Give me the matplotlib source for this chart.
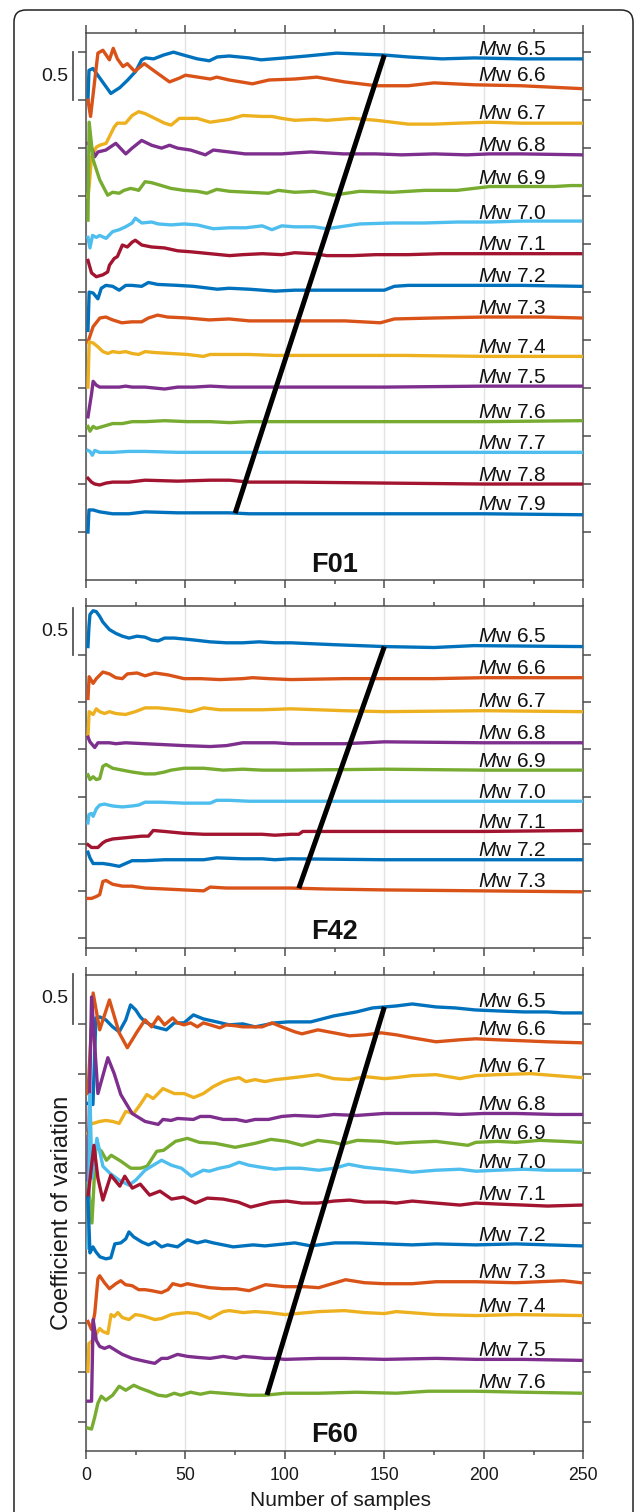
import numpy as np
import matplotlib
matplotlib.use("Agg")
import matplotlib.pyplot as plt
from matplotlib.patches import FancyBboxPatch
from matplotlib.transforms import IdentityTransform, blended_transform_factory

plt.rcParams['font.family'] = ['Liberation Sans', 'DejaVu Sans']
plt.rcParams['mathtext.fontset'] = 'custom'
plt.rcParams['mathtext.rm'] = 'Liberation Sans'
plt.rcParams['mathtext.it'] = 'Liberation Sans:italic'

# ---- F01 ----
f01_65_x = [1, 1.5, 3.5, 8, 12.5, 17, 21, 25, 28, 30, 34, 39, 44, 49, 56, 62, 66, 72, 82, 88, 100, 111, 126, 138, 150, 162, 179, 195, 219, 249]
f01_65_y = [5.00, 5.31, 5.33, 5.20, 5.07, 5.13, 5.21, 5.30, 5.42, 5.44, 5.43, 5.47, 5.50, 5.47, 5.43, 5.41, 5.45, 5.46, 5.44, 5.42, 5.44, 5.46, 5.49, 5.48, 5.47, 5.45, 5.43, 5.44, 5.43, 5.43]
f01_66_x = [1, 2.3, 6, 8.5, 11.8, 13.7, 15.8, 18.6, 20.8, 24.5, 29.3, 34.6, 42, 47, 50, 62.5, 65.7, 72, 83.7, 92, 105, 116, 130, 146, 162, 175, 195, 219, 249]
f01_66_y = [5.00, 4.83, 5.49, 5.52, 5.42, 5.54, 5.43, 5.35, 5.38, 5.30, 5.38, 5.30, 5.19, 5.23, 5.26, 5.22, 5.24, 5.21, 5.17, 5.21, 5.22, 5.24, 5.19, 5.15, 5.15, 5.18, 5.16, 5.15, 5.12]
f01_67_x = [1, 1.6, 2.8, 5.2, 6.9, 10.1, 14.2, 15.8, 19.9, 23.2, 26.5, 29.7, 34.6, 39.5, 42.8, 46.9, 55.9, 62.4, 72.2, 78.8, 88.6, 93.5, 98.4, 105, 114.7, 121, 134, 146, 162, 175, 187, 203, 219, 249]
f01_67_y = [3.99, 4.10, 4.41, 4.51, 4.53, 4.55, 4.72, 4.76, 4.76, 4.84, 4.88, 4.86, 4.81, 4.76, 4.74, 4.81, 4.81, 4.77, 4.80, 4.84, 4.83, 4.83, 4.81, 4.79, 4.80, 4.79, 4.81, 4.79, 4.75, 4.75, 4.76, 4.77, 4.76, 4.76]
f01_68_x = [1, 2, 4.4, 6, 10, 15, 20, 23.2, 28, 33, 38, 42, 46, 52.6, 60, 64, 72, 80, 88.6, 98.4, 105, 113, 129.4, 145.7, 158.8, 175, 191.5, 203, 219, 249]
f01_68_y = [4.55, 4.55, 4.41, 4.46, 4.48, 4.55, 4.44, 4.50, 4.58, 4.53, 4.50, 4.53, 4.50, 4.48, 4.43, 4.48, 4.46, 4.44, 4.44, 4.44, 4.45, 4.46, 4.44, 4.44, 4.43, 4.44, 4.43, 4.44, 4.44, 4.43]
f01_69_x = [1, 1.6, 3.6, 6.9, 10.9, 13.4, 16.7, 19.1, 22.4, 24.8, 26.5, 29.7, 33, 36.3, 42.8, 49.3, 55.9, 60.8, 65.7, 72.2, 82, 91.8, 96.7, 104.9, 114.7, 124.5, 137.6, 154, 170.3, 186.6, 203, 219.3, 235.6, 243.8, 248.7]
f01_69_y = [3.75, 4.77, 4.38, 4.17, 4.01, 4.04, 4.03, 4.06, 4.08, 4.07, 4.06, 4.15, 4.14, 4.12, 4.08, 4.06, 4.05, 4.03, 4.07, 4.05, 4.04, 4.03, 4.06, 4.04, 4.05, 4.01, 4.05, 4.04, 4.06, 4.06, 4.10, 4.10, 4.10, 4.11, 4.11]
f01_70_x = [1, 2, 3.3, 5.2, 6.9, 10.1, 13.4, 16.7, 19.9, 23.2, 24.8, 28.1, 33, 36.3, 42.8, 49.3, 55.9, 64, 72.2, 80.4, 88.6, 93.5, 98.4, 104.9, 114.7, 121, 137.6, 154, 170.3, 186.6, 203, 219.3, 248.7]
f01_70_y = [3.57, 3.46, 3.59, 3.57, 3.59, 3.56, 3.63, 3.65, 3.68, 3.72, 3.77, 3.72, 3.73, 3.71, 3.70, 3.71, 3.70, 3.66, 3.67, 3.67, 3.69, 3.65, 3.69, 3.68, 3.68, 3.66, 3.71, 3.72, 3.72, 3.73, 3.73, 3.74, 3.74]
f01_71_x = [1, 2.8, 5.2, 8.5, 10.9, 11.8, 14.2, 15.8, 18.3, 20.8, 23.2, 24.8, 28.1, 33, 39.5, 46.1, 52.6, 62.4, 72.2, 78.8, 88.6, 98.4, 104.9, 114.7, 121, 134, 145.7, 162, 178.4, 203, 248.7]
f01_71_y = [3.33, 3.20, 3.16, 3.18, 3.21, 3.28, 3.35, 3.37, 3.49, 3.47, 3.52, 3.54, 3.49, 3.47, 3.46, 3.43, 3.42, 3.40, 3.38, 3.39, 3.40, 3.39, 3.41, 3.40, 3.38, 3.38, 3.39, 3.39, 3.40, 3.40, 3.40]
f01_72_x = [1, 1.6, 3.6, 6, 7.7, 10, 13.4, 16.7, 20, 23, 28, 31.4, 36, 46, 54, 66, 72, 82, 95, 105, 130, 150, 155, 162, 187, 219, 249]
f01_72_y = [2.60, 3.00, 2.99, 2.93, 3.04, 3.07, 3.06, 3.02, 3.07, 3.07, 3.06, 3.10, 3.08, 3.07, 3.06, 3.03, 3.04, 3.03, 3.01, 3.02, 3.02, 3.02, 3.06, 3.07, 3.07, 3.07, 3.06]
f01_73_x = [1, 3.6, 7, 10, 13.4, 18, 23, 28, 31.4, 36, 41, 51, 62, 72, 82, 95, 105, 130, 148, 155, 175, 200, 230, 249]
f01_73_y = [2.48, 2.64, 2.73, 2.74, 2.71, 2.68, 2.69, 2.69, 2.73, 2.76, 2.74, 2.73, 2.71, 2.72, 2.70, 2.70, 2.70, 2.70, 2.68, 2.72, 2.73, 2.74, 2.74, 2.73]
f01_74_x = [1, 1.6, 3.6, 6, 8.5, 11, 13.4, 16.7, 19.9, 23.2, 26.5, 29.7, 34.6, 42.8, 51, 59, 62.4, 72.2, 82, 95.1, 104.9, 130, 160, 200, 249]
f01_74_y = [2.01, 2.48, 2.47, 2.43, 2.38, 2.36, 2.38, 2.37, 2.38, 2.36, 2.35, 2.38, 2.37, 2.36, 2.35, 2.33, 2.35, 2.35, 2.35, 2.34, 2.34, 2.34, 2.34, 2.33, 2.33]
f01_75_x = [1, 2.8, 3.6, 5.2, 6.9, 10.1, 13.4, 16.7, 19.9, 23.2, 29.7, 39.5, 46.1, 54.2, 62.4, 72.2, 82, 95.1, 104.9, 150, 200, 249]
f01_75_y = [1.70, 1.94, 2.07, 2.03, 2.01, 2.01, 2.01, 2.01, 2.02, 2.01, 2.01, 1.99, 2.01, 2.01, 2.02, 2.01, 2.01, 2.01, 2.01, 2.01, 2.02, 2.02]
f01_76_x = [1, 2, 3.6, 5.2, 8.5, 13.4, 18.3, 23.2, 29.7, 39.5, 51, 62.4, 72.2, 82, 95, 105, 150, 200, 249]
f01_76_y = [1.60, 1.55, 1.60, 1.58, 1.60, 1.63, 1.63, 1.65, 1.65, 1.66, 1.65, 1.65, 1.64, 1.65, 1.65, 1.65, 1.65, 1.65, 1.66]
f01_77_x = [1, 2, 3.2, 4.4, 6.9, 13.4, 21.6, 29.7, 46.1, 62.4, 78.8, 105, 150, 200, 249]
f01_77_y = [1.35, 1.34, 1.30, 1.35, 1.33, 1.33, 1.34, 1.34, 1.33, 1.33, 1.33, 1.33, 1.33, 1.33, 1.33]
f01_78_x = [1, 2.8, 4.4, 6.9, 10.1, 13.4, 21.6, 29.7, 46.1, 62.4, 72.2, 82, 95, 105, 150, 200, 249]
f01_78_y = [1.06, 1.02, 1.00, 0.99, 1.01, 1.02, 1.02, 1.04, 1.03, 1.04, 1.04, 1.02, 1.02, 1.02, 1.01, 1.00, 1.00]
f01_79_x = [1, 1.5, 3.6, 6.9, 13.4, 21.6, 29.7, 46.1, 62.4, 72.2, 82, 95, 105, 150, 200, 249]
f01_79_y = [0.50, 0.73, 0.73, 0.71, 0.69, 0.69, 0.71, 0.70, 0.70, 0.70, 0.69, 0.69, 0.69, 0.69, 0.69, 0.68]

# ---- F42 ----
f42_65_x = [1, 1.5, 2, 3.6, 5.2, 6.9, 8.5, 11.8, 15, 18.3, 21.6, 25.7, 29.7, 33, 36.3, 39.5, 44.4, 49.3, 54.2, 62.4, 70.6, 78.8, 87, 95, 103, 124.6, 150, 175, 195, 249]
f42_65_y = [3.59, 3.80, 3.93, 3.97, 3.96, 3.91, 3.85, 3.77, 3.73, 3.70, 3.68, 3.70, 3.69, 3.66, 3.65, 3.68, 3.68, 3.67, 3.66, 3.64, 3.63, 3.63, 3.64, 3.63, 3.63, 3.61, 3.59, 3.58, 3.60, 3.59]
f42_66_x = [1, 1.6, 3.6, 5.2, 8.5, 11.8, 15, 18.3, 20.8, 25.7, 29.7, 34.6, 41.2, 49.3, 57.5, 67.3, 78.8, 83.7, 91.8, 103, 130, 150, 175, 200, 249]
f42_66_y = [3.04, 3.27, 3.20, 3.25, 3.32, 3.30, 3.26, 3.25, 3.30, 3.31, 3.28, 3.31, 3.29, 3.25, 3.25, 3.24, 3.25, 3.26, 3.25, 3.24, 3.25, 3.25, 3.25, 3.26, 3.26]
f42_67_x = [1, 1.6, 3.6, 5.2, 6.9, 9.3, 11.8, 15, 19.9, 24.8, 29.7, 36.3, 46.1, 52.6, 59.2, 67.3, 78.8, 88.6, 103, 130, 150, 200, 249]
f42_67_y = [2.64, 2.90, 2.87, 2.93, 2.90, 2.88, 2.90, 2.88, 2.87, 2.90, 2.94, 2.94, 2.92, 2.90, 2.94, 2.92, 2.92, 2.92, 2.93, 2.91, 2.90, 2.91, 2.90]
f42_68_x = [1, 2, 4.4, 6, 8.5, 11.8, 15, 19.9, 29.7, 39.5, 49.3, 62.4, 70.6, 78.8, 86.9, 95, 103, 130, 150, 200, 249]
f42_68_y = [2.63, 2.58, 2.52, 2.57, 2.57, 2.57, 2.56, 2.57, 2.56, 2.55, 2.54, 2.53, 2.54, 2.57, 2.57, 2.57, 2.56, 2.56, 2.58, 2.57, 2.57]
f42_69_x = [1, 2, 3.6, 5.2, 6.9, 8.5, 10.1, 13.4, 18.3, 23.2, 29.7, 34.6, 39.5, 42.8, 49.3, 59.2, 69, 78.8, 88.6, 103, 150, 200, 249]
f42_69_y = [2.23, 2.18, 2.21, 2.18, 2.19, 2.32, 2.34, 2.30, 2.28, 2.26, 2.24, 2.24, 2.26, 2.28, 2.30, 2.30, 2.28, 2.29, 2.28, 2.28, 2.29, 2.28, 2.28]
f42_70_x = [1, 1.5, 2.8, 3.6, 5.2, 6.9, 9.3, 13.4, 18.3, 23.2, 26.5, 29.7, 37.9, 49.3, 62.4, 65.7, 72.2, 82, 95, 103, 150, 200, 249]
f42_70_y = [1.72, 1.81, 1.82, 1.79, 1.87, 1.91, 1.92, 1.90, 1.89, 1.90, 1.91, 1.94, 1.94, 1.93, 1.93, 1.96, 1.96, 1.95, 1.95, 1.95, 1.95, 1.95, 1.95]
f42_71_x = [1, 2.8, 6, 8.5, 10.1, 13.4, 18.3, 23.2, 28.1, 31.4, 33.8, 39.5, 49.3, 59.2, 65.7, 78.8, 88.6, 95, 103, 107, 109, 150, 200, 249]
f42_71_y = [1.49, 1.46, 1.46, 1.51, 1.53, 1.55, 1.56, 1.57, 1.58, 1.58, 1.64, 1.63, 1.61, 1.60, 1.60, 1.60, 1.60, 1.59, 1.60, 1.60, 1.63, 1.63, 1.63, 1.64]
f42_72_x = [1, 2, 3.6, 6, 8.5, 11.8, 16.7, 19.9, 23.2, 29.7, 39.5, 49.3, 59.2, 65.7, 78.8, 88.6, 95, 103, 150, 200, 249]
f42_72_y = [1.41, 1.35, 1.29, 1.29, 1.29, 1.28, 1.26, 1.29, 1.32, 1.32, 1.33, 1.33, 1.33, 1.35, 1.34, 1.34, 1.33, 1.34, 1.33, 1.33, 1.33]
f42_73_x = [1, 2.8, 5.2, 6.9, 8.5, 10.1, 13.4, 18.3, 23.2, 29.7, 39.5, 49.3, 59.2, 62.4, 70.6, 78.8, 88.6, 103, 120, 150, 200, 249]
f42_73_y = [0.92, 0.92, 0.94, 0.96, 1.10, 1.11, 1.07, 1.05, 1.05, 1.03, 1.02, 1.01, 1.00, 1.04, 1.03, 1.03, 1.03, 1.03, 1.02, 1.01, 1.00, 0.99]

# ---- F60 ----
f60_65_x = [1, 3.5, 5, 6.9, 10, 13.4, 16.7, 20, 22.4, 25, 27.3, 29.7, 34.6, 40.4, 44.4, 49.3, 54, 59, 65.7, 72, 78.8, 85, 90, 95, 101.6, 113, 124.6, 136, 144, 150, 156, 164, 176, 185.7, 195.6, 207, 220, 232, 239.6, 249]
f60_65_y = [3.70, 3.69, 4.56, 4.57, 4.54, 4.47, 4.42, 4.54, 4.69, 4.64, 4.57, 4.52, 4.47, 4.44, 4.51, 4.51, 4.59, 4.55, 4.52, 4.49, 4.50, 4.47, 4.49, 4.51, 4.52, 4.52, 4.58, 4.62, 4.66, 4.67, 4.68, 4.70, 4.67, 4.66, 4.64, 4.63, 4.62, 4.62, 4.61, 4.61]
f60_66_x = [1, 3.6, 6.9, 11.8, 16.7, 20.8, 25.7, 29.7, 33, 36.3, 39.5, 43.6, 46, 49.3, 52.6, 56, 59, 62.4, 67.3, 70.6, 75.5, 78.8, 83.7, 88.6, 93.5, 98.4, 105, 108.6, 116.6, 124.6, 132.5, 140.4, 148.4, 156, 164, 176, 188, 196, 207, 220, 232, 249]
f60_66_y = [3.80, 4.81, 4.44, 4.74, 4.41, 4.26, 4.42, 4.54, 4.47, 4.57, 4.49, 4.56, 4.51, 4.49, 4.51, 4.47, 4.51, 4.49, 4.46, 4.49, 4.48, 4.47, 4.47, 4.47, 4.51, 4.47, 4.42, 4.40, 4.44, 4.41, 4.38, 4.39, 4.41, 4.39, 4.36, 4.32, 4.34, 4.35, 4.34, 4.33, 4.32, 4.31]
f60_67_x = [1, 2.5, 3.6, 6.9, 10, 13.4, 16.7, 20, 24, 27.3, 30.6, 33.8, 38.7, 44.4, 49.3, 54.2, 59, 64, 69, 72, 77, 80.4, 85, 90, 95, 100, 108.6, 116.6, 124.6, 132.5, 140.4, 150, 156, 164, 176, 188, 196, 207, 223.6, 236, 249]
f60_67_y = [3.40, 3.50, 3.50, 3.52, 3.53, 3.52, 3.50, 3.62, 3.60, 3.69, 3.79, 3.75, 3.85, 3.80, 3.80, 3.76, 3.80, 3.87, 3.92, 3.94, 3.96, 3.92, 3.94, 3.92, 3.94, 3.95, 3.97, 3.99, 3.95, 3.94, 3.97, 3.95, 3.96, 3.98, 3.99, 3.95, 3.98, 3.99, 4.00, 3.98, 3.96]
f60_68_x = [1, 2.8, 6, 11, 14.2, 17.5, 23.2, 29.7, 36.3, 38.7, 42.8, 46, 54, 57.5, 62.4, 69, 75.5, 80.4, 85, 91.8, 98.4, 105, 116.6, 124.6, 136, 150, 164, 176, 188, 200, 216, 236, 249]
f60_68_y = [2.90, 4.77, 3.80, 4.16, 4.00, 3.79, 3.60, 3.52, 3.49, 3.54, 3.53, 3.55, 3.54, 3.57, 3.57, 3.54, 3.54, 3.52, 3.54, 3.54, 3.57, 3.58, 3.57, 3.59, 3.58, 3.60, 3.60, 3.60, 3.59, 3.60, 3.60, 3.59, 3.59]
f60_69_x = [1, 3, 5, 7.8, 10.3, 12.7, 17.6, 22.5, 27.5, 30.7, 35.6, 39, 45, 51, 57, 65, 75, 85, 93, 101, 108.6, 116.6, 124.6, 128.5, 136.4, 148.4, 156, 164, 176, 184, 192, 196, 207, 216, 228, 239.6, 249]
f60_69_y = [2.90, 2.50, 3.27, 3.22, 3.13, 3.18, 3.12, 3.05, 3.05, 3.07, 3.22, 3.23, 3.32, 3.35, 3.31, 3.30, 3.26, 3.30, 3.34, 3.32, 3.28, 3.33, 3.31, 3.29, 3.33, 3.32, 3.30, 3.31, 3.32, 3.30, 3.28, 3.31, 3.32, 3.31, 3.33, 3.32, 3.31]
f60_70_x = [1, 2, 3, 5.5, 8.5, 12, 16.7, 21.6, 25, 29.7, 33, 38, 43, 48, 53, 59, 62, 67, 72, 77, 82, 88, 95, 101, 108, 117, 125, 132, 140, 150, 156, 164, 176, 188, 196, 207, 220, 232, 249]
f60_70_y = [2.25, 3.79, 2.95, 3.35, 3.07, 3.00, 2.93, 2.88, 2.93, 3.03, 3.07, 3.13, 3.08, 3.05, 2.97, 3.03, 3.02, 3.05, 3.07, 3.11, 3.08, 3.06, 3.04, 3.05, 3.05, 3.03, 3.05, 3.09, 3.06, 3.04, 3.03, 3.01, 3.03, 3.04, 3.02, 3.03, 3.04, 3.03, 3.03]
f60_71_x = [1, 4, 6, 8.5, 12.5, 17, 19.5, 23.3, 27.3, 32, 37.2, 43, 49, 55, 61, 69, 76.5, 82.8, 93, 101, 108.6, 116.6, 124.6, 132.5, 140, 150, 156, 164, 176, 188, 196, 207, 220, 232, 249]
f60_71_y = [2.76, 3.28, 2.95, 2.73, 2.98, 2.87, 2.97, 2.85, 2.89, 2.78, 2.82, 2.74, 2.76, 2.70, 2.75, 2.74, 2.71, 2.66, 2.71, 2.72, 2.70, 2.70, 2.72, 2.73, 2.71, 2.71, 2.70, 2.72, 2.70, 2.68, 2.70, 2.69, 2.68, 2.67, 2.68]
f60_72_x = [1, 2, 3.5, 5, 7, 10, 12.5, 14.5, 17.5, 20, 21.6, 24, 28, 31.4, 34.6, 38, 41, 46, 51, 56, 60, 64, 69, 74, 79, 84, 90, 95, 100, 105, 113, 125, 136, 150, 164, 176, 196, 216, 249]
f60_72_y = [2.75, 2.20, 2.26, 2.21, 2.16, 2.14, 2.15, 2.29, 2.30, 2.34, 2.41, 2.36, 2.31, 2.28, 2.31, 2.26, 2.28, 2.26, 2.33, 2.30, 2.32, 2.30, 2.28, 2.26, 2.27, 2.28, 2.27, 2.28, 2.29, 2.30, 2.27, 2.30, 2.30, 2.29, 2.28, 2.29, 2.28, 2.29, 2.27]
f60_73_x = [1, 2.8, 4.4, 6, 6.9, 9.3, 11.8, 15, 17.5, 19.9, 23.2, 26.5, 29.7, 33, 37.9, 41.2, 43.6, 47.7, 51, 55.9, 62.4, 69, 75.5, 82, 86.1, 90.2, 95.1, 100, 110, 117, 130.5, 140, 150, 164, 176, 196, 216, 240, 249]
f60_73_y = [1.51, 1.43, 1.59, 1.94, 1.97, 1.90, 1.84, 1.89, 1.92, 1.88, 1.87, 1.83, 1.83, 1.82, 1.80, 1.83, 1.89, 1.87, 1.89, 1.87, 1.85, 1.84, 1.84, 1.82, 1.85, 1.88, 1.87, 1.86, 1.86, 1.85, 1.93, 1.90, 1.89, 1.89, 1.91, 1.91, 1.90, 1.92, 1.90]
f60_74_x = [1, 1.5, 2.8, 4.4, 6.9, 8.5, 11, 12.6, 14.2, 16, 18.3, 21.6, 24.8, 28, 31.4, 34.6, 38, 40.4, 42.8, 46, 51, 56, 62.4, 66, 69, 72, 79, 85, 92, 100, 117, 130, 140, 150, 156, 176, 196, 216, 249]
f60_74_y = [1.01, 1.29, 1.31, 1.36, 1.44, 1.41, 1.39, 1.58, 1.56, 1.60, 1.55, 1.53, 1.58, 1.57, 1.55, 1.53, 1.54, 1.56, 1.58, 1.59, 1.60, 1.59, 1.54, 1.58, 1.61, 1.62, 1.60, 1.61, 1.60, 1.58, 1.61, 1.62, 1.60, 1.59, 1.61, 1.58, 1.57, 1.58, 1.57]
f60_75_x = [1, 2.8, 3.6, 5.2, 6.9, 9.3, 11.8, 15, 18.3, 23.2, 29.7, 34.6, 38, 41, 46, 51, 56, 62.4, 69, 75.5, 79, 85, 90, 95, 100, 117, 130, 150, 176, 196, 220, 249]
f60_75_y = [0.71, 0.71, 1.53, 1.32, 1.26, 1.24, 1.26, 1.22, 1.18, 1.14, 1.11, 1.09, 1.14, 1.14, 1.18, 1.16, 1.15, 1.14, 1.16, 1.14, 1.16, 1.15, 1.14, 1.14, 1.13, 1.14, 1.14, 1.13, 1.14, 1.13, 1.13, 1.12]
f60_76_x = [1, 2.8, 4.4, 6, 7.7, 10, 13.4, 16.7, 20, 24, 27.3, 31.4, 36.3, 40.4, 44.4, 47.7, 52.6, 57.5, 62.4, 69, 75.5, 82, 90, 100, 117, 136, 156, 172, 196, 220, 249]
f60_76_y = [0.44, 0.43, 0.55, 0.69, 0.76, 0.72, 0.77, 0.86, 0.82, 0.87, 0.84, 0.81, 0.77, 0.76, 0.79, 0.77, 0.80, 0.78, 0.80, 0.79, 0.78, 0.77, 0.77, 0.79, 0.79, 0.80, 0.79, 0.81, 0.81, 0.80, 0.79]

f01_mags = [6.5, 6.6, 6.7, 6.8, 6.9, 7.0, 7.1, 7.2, 7.3, 7.4, 7.5, 7.6, 7.7, 7.8, 7.9]
f42_mags = [6.5, 6.6, 6.7, 6.8, 6.9, 7.0, 7.1, 7.2, 7.3]
f60_mags = [6.5, 6.6, 6.7, 6.8, 6.9, 7.0, 7.1, 7.2, 7.3, 7.4, 7.5, 7.6]

panel_names = ["F01", "F42", "F60"]
trend_top_x = [150, 150, 150]
trend_bottom_x = [75, 107, 91]
x_ticks = [0, 50, 100, 150, 200, 250]

f01_curves = [(f01_65_x, f01_65_y), (f01_66_x, f01_66_y), (f01_67_x, f01_67_y), (f01_68_x, f01_68_y),
              (f01_69_x, f01_69_y), (f01_70_x, f01_70_y), (f01_71_x, f01_71_y), (f01_72_x, f01_72_y),
              (f01_73_x, f01_73_y), (f01_74_x, f01_74_y), (f01_75_x, f01_75_y), (f01_76_x, f01_76_y),
              (f01_77_x, f01_77_y), (f01_78_x, f01_78_y), (f01_79_x, f01_79_y)]
f42_curves = [(f42_65_x, f42_65_y), (f42_66_x, f42_66_y), (f42_67_x, f42_67_y), (f42_68_x, f42_68_y),
              (f42_69_x, f42_69_y), (f42_70_x, f42_70_y), (f42_71_x, f42_71_y), (f42_72_x, f42_72_y),
              (f42_73_x, f42_73_y)]
f60_curves = [(f60_65_x, f60_65_y), (f60_66_x, f60_66_y), (f60_67_x, f60_67_y), (f60_68_x, f60_68_y),
              (f60_69_x, f60_69_y), (f60_70_x, f60_70_y), (f60_71_x, f60_71_y), (f60_72_x, f60_72_y),
              (f60_73_x, f60_73_y), (f60_74_x, f60_74_y), (f60_75_x, f60_75_y), (f60_76_x, f60_76_y)]

# matlab default colour order
colors = ["#0072BD", "#D95319", "#EDB120", "#7E2F8E", "#77AC30", "#4DBEEE", "#A2142F"]
axis_gray = "#4d4d4d"
LABEL_X = 197

fig = plt.figure(figsize=(6.34, 15.12), dpi=100)

# rounded frame around the figure (pixel coords)
frame = FancyBboxPatch((14, -40), 619, 1542, boxstyle="round,pad=0,rounding_size=12",
                       transform=IdentityTransform(), fill=False, ec="#222222", lw=1.1)
fig.add_artist(frame)

# [left, bottom, width, height], ylim, yticks, scale bar, name baseline
panels = [
    dict(rect=[0.1356, 0.6164, 0.7844, 0.3618], ylim=(0, 5.70), yticks=np.arange(0.5, 5.51, 0.5),
         bar=(5.0, 5.5), curves=f01_curves, mags=f01_mags, name_y=0.015),
    dict(rect=[0.1356, 0.3730, 0.7844, 0.2262], ylim=(0.394, 4.02), yticks=np.arange(0.5, 3.51, 0.5),
         bar=(3.5, 4.0), curves=f42_curves, mags=f42_mags, name_y=0.025),
    dict(rect=[0.1356, 0.0403, 0.7844, 0.3148], ylim=(0.209, 4.99), yticks=np.arange(0.5, 4.51, 0.5),
         bar=(4.5, 5.0), curves=f60_curves, mags=f60_mags, name_y=0.0195),
]

for i, p in enumerate(panels):
    ax = fig.add_axes(p["rect"])
    ax.set_xlim(0, 250)
    ax.set_ylim(*p["ylim"])
    ax.set_xticks(x_ticks)
    ax.set_xticks(np.arange(25, 250, 50), minor=True)
    ax.set_yticks(p["yticks"])
    ax.set_yticklabels([])
    ax.grid(axis="x", which="major", color="#e3e3e3", lw=1.0)
    ax.set_axisbelow(True)
    for s in ax.spines.values():
        s.set_color(axis_gray)
        s.set_linewidth(1.1)
    ax.tick_params(which="both", direction="out", top=True, right=True, color=axis_gray, width=1.1)
    ax.tick_params(which="major", length=6)
    ax.tick_params(which="minor", length=3)
    ax.tick_params(axis="x", labelsize=12.7, pad=5.5, labelcolor="#1a1a1a")
    if i < 2:
        ax.tick_params(axis="x", labelbottom=False)

    for k, (cx, cy) in enumerate(p["curves"]):
        ax.plot(cx, cy, color=colors[k % 7], lw=2.4, solid_joinstyle="round", zorder=3)
        yl = np.interp(LABEL_X, cx, cy)
        ax.annotate(r"$\mathit{M}$w " + f"{p['mags'][k]:.1f}", xy=(LABEL_X, yl), xytext=(0, 2.5),
                    textcoords="offset points", ha="left", va="baseline", fontsize=15,
                    color="#111111", zorder=4)

    # trend line joining first and last magnitude curves
    first_x, first_y = p["curves"][0]
    last_x, last_y = p["curves"][-1]
    x0, x1 = trend_top_x[i], trend_bottom_x[i]
    ax.plot([x0, x1], [np.interp(x0, first_x, first_y), np.interp(x1, last_x, last_y)],
            color="black", lw=3.6, solid_capstyle="butt", zorder=5)

    # 0.5 scale bar
    tr = blended_transform_factory(ax.transAxes, ax.transData)
    b0, b1 = p["bar"]
    ax.plot([-0.0255, -0.0255], [b0, b1], transform=tr, color="#555555", lw=1.3, clip_on=False)
    ax.text(-0.036, (b0 + b1) / 2, "0.5", transform=tr, ha="right", va="center", fontsize=14,
            color="#1a1a1a")

    ax.text(0.5, p["name_y"], panel_names[i], transform=ax.transAxes, ha="center", va="baseline",
            fontsize=19.5, fontweight="bold", color="#111111")

fig.text(62 / 634, 1 - 1213 / 1512, "Coefficient of variation", rotation=90, ha="center",
         va="center", fontsize=17, color="#1a1a1a")
fig.text(341 / 634, 1 - 1506 / 1512, "Number of samples", ha="center", va="baseline",
         fontsize=15, color="#1a1a1a")

fig.savefig("out.png", dpi=100)
